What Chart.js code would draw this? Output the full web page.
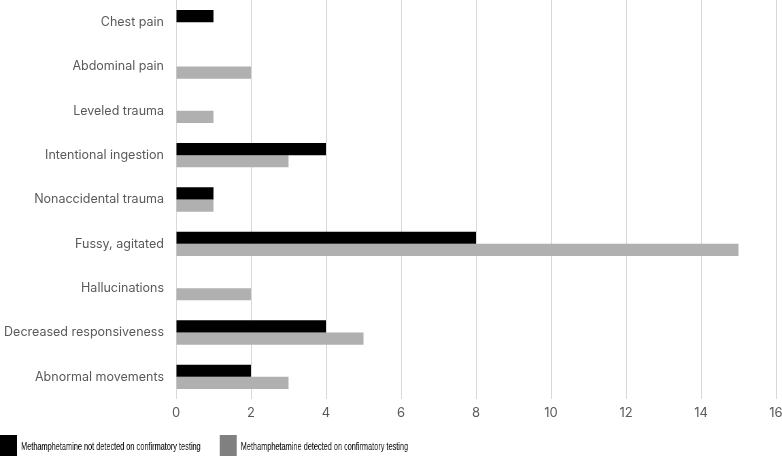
<!DOCTYPE html>
<html>
<head>
<meta charset="utf-8">
<script src="https://cdn.jsdelivr.net/npm/chart.js@4.4.1/dist/chart.umd.min.js"></script>
<style>
  html, body { margin: 0; padding: 0; background: #fff; }
  #wrap { position: relative; width: 782px; height: 425px; }
  /* the reference legend uses a condensed face; squeeze a regular one */
  #legend { position: absolute; left: 0; top: 435px; display: flex; align-items: center;
    transform: scaleX(0.68); transform-origin: 0 0; white-space: nowrap; will-change: transform;
    -webkit-font-smoothing: antialiased;
    font-family: "Liberation Sans", Arial, sans-serif; font-size: 10.8px; color: #000; }
  .item { display: flex; align-items: center; margin-right: 28px; }
  .box { width: 25px; height: 21px; margin-right: 6px; }
</style>
</head>
<body>
<div id="wrap"><canvas id="chart"></canvas></div>
<div id="legend"></div>
<script>
// categories, top to bottom
const categories = [
  'Chest pain', 'Abdominal pain', 'Leveled trauma', 'Intentional ingestion',
  'Nonaccidental trauma', 'Fussy, agitated', 'Hallucinations',
  'Decreased responsiveness', 'Abnormal movements'
];
const notDetected = [1, 0, 0, 4, 1, 8, 0, 4, 2];
const detected    = [0, 2, 1, 3, 1, 15, 2, 5, 3];
const seriesNames = [
  'Methamphetamine not detected on confirmatory testing',
  'Methamphetamine detected on confirmatory testing'
];
const barColors = ['#000000', '#b0b0b0'];
const legendColors = ['#000000', '#808080'];

const axisFont = { family: 'Inter, "Open Sans", sans-serif', size: 12.5 };

const chart = new Chart(document.getElementById('chart'), {
  type: 'bar',
  data: {
    labels: categories,
    datasets: [
      { label: seriesNames[0], data: notDetected, backgroundColor: barColors[0] },
      { label: seriesNames[1], data: detected, backgroundColor: barColors[1] }
    ]
  },
  options: {
    indexAxis: 'y',
    responsive: true,
    maintainAspectRatio: false,
    animation: false,
    categoryPercentage: 0.55,
    barPercentage: 1.0,
    layout: { padding: 0 },
    plugins: { legend: { display: false }, tooltip: { enabled: false } },
    scales: {
      x: {
        min: 0, max: 16,
        ticks: { stepSize: 2, color: '#595959', font: { ...axisFont, size: 13 }, padding: 6 },
        grid: { color: '#d9d9d9', drawTicks: false, lineWidth: 1 },
        border: { display: false },
        afterFit: (s) => { s.height = 26; s.paddingLeft = 0; s.paddingRight = 6; }
      },
      y: {
        ticks: { color: '#595959', font: axisFont, padding: 12 },
        grid: { display: false, drawTicks: false },
        border: { display: false },
        afterFit: (s) => { s.width = 176; s.paddingTop = 0; s.paddingBottom = 0; }
      }
    }
  }
});

// legend built from the same series names
const legend = document.getElementById('legend');
seriesNames.forEach((name, i) => {
  const item = document.createElement('div');
  item.className = 'item';
  item.innerHTML = `<div class="box" style="background:${legendColors[i]}"></div><span>${name}</span>`;
  legend.appendChild(item);
});
</script>
</body>
</html>
